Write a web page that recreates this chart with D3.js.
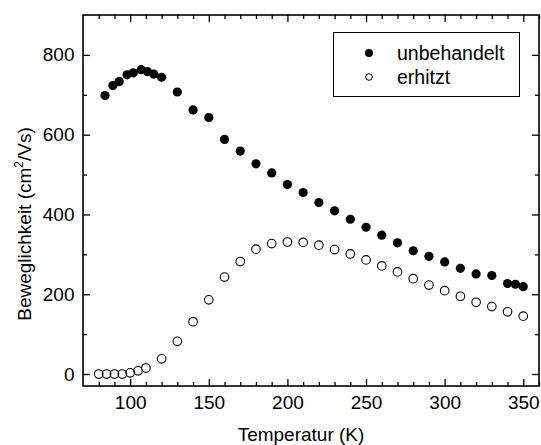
<!DOCTYPE html>
<html><head><meta charset="utf-8">
<script src="https://cdn.jsdelivr.net/npm/d3@7"></script>
<style>body{margin:0;background:#fff}svg{display:block}text{font-family:"Liberation Sans",Arial,sans-serif}</style>
</head><body>
<script>
const tempUnbehandelt = [84,89,93,98,102,107,111,115,120,130,140,150,160,170,180,190,200,210,220,230,240,250,260,270,280,290,300,310,320,330,340,345,350];
const valUnbehandelt = [698,723,733,750,755,763,758,752,744,707,662,643,588,559,527,504,475,455,430,409,388,368,348,329,309,295,281,265,251,247,227,225,219];
const tempErhitzt = [80,85,90,95,100,105,110,120,130,140,150,160,170,180,190,200,210,220,230,240,250,260,270,280,290,300,310,320,330,340,350];
const valErhitzt = [0,0,0,0,3,8,15,38,82,131,186,243,282,313,327,331,330,323,312,301,286,271,256,239,223,209,195,180,169,156,145];
const xTickLabels = [100,150,200,250,300,350];
const yTickLabels = [0,200,400,600,800];
const seriesNames = ["unbehandelt","erhitzt"];

const W=541,H=445;
const L=83,R=539,T=15,B=386;
const svg=d3.select("body").append("svg").attr("width",W).attr("height",H);
const x=d3.scaleLinear().domain([70,360]).range([L,R]);
const y=d3.scaleLinear().domain([-30,900]).range([B,T]);

const xMinor=d3.range(80,361,10).filter(v=>v%50!==0);
const yMinor=d3.range(100,900,200);

function axes(){
  const gb=svg.append("g").attr("transform",`translate(0,${B})`);
  gb.call(d3.axisBottom(x).tickValues(xTickLabels).tickSize(-7).tickPadding(9.5).tickFormat(d3.format("d")));
  gb.append("g").call(d3.axisBottom(x).tickValues(xMinor).tickSize(-4).tickFormat(""));
  const gt=svg.append("g").attr("transform",`translate(0,${T})`);
  gt.call(d3.axisTop(x).tickValues(xTickLabels).tickSize(-7).tickFormat(""));
  gt.append("g").call(d3.axisTop(x).tickValues(xMinor).tickSize(-4).tickFormat(""));
  const gl=svg.append("g").attr("transform",`translate(${L},0)`);
  gl.call(d3.axisLeft(y).tickValues(yTickLabels).tickSize(-7).tickPadding(8.5).tickFormat(d3.format("d")));
  gl.append("g").call(d3.axisLeft(y).tickValues(yMinor).tickSize(-4).tickFormat(""));
  const gr=svg.append("g").attr("transform",`translate(${R},0)`);
  gr.call(d3.axisRight(y).tickValues(yTickLabels).tickSize(-7).tickFormat(""));
  gr.append("g").call(d3.axisRight(y).tickValues(yMinor).tickSize(-4).tickFormat(""));
  svg.selectAll(".domain").remove();
  svg.selectAll(".tick line").attr("stroke","#000").attr("stroke-width",1.3);
  svg.selectAll(".tick text").attr("font-size",19).attr("fill","#000").attr("font-family","Liberation Sans, Arial, sans-serif");
  svg.append("rect").attr("x",L).attr("y",T).attr("width",R-L).attr("height",B-T)
    .attr("fill","none").attr("stroke","#000").attr("stroke-width",1.6);
}
axes();

const gd=svg.append("g");
gd.selectAll("circle.f").data(tempUnbehandelt.map((t,i)=>[t,valUnbehandelt[i]])).join("circle")
  .attr("cx",d=>x(d[0])).attr("cy",d=>y(d[1])).attr("r",4.6).attr("fill","#000");
gd.selectAll("circle.o").data(tempErhitzt.map((t,i)=>[t,valErhitzt[i]])).join("circle")
  .attr("cx",d=>x(d[0])).attr("cy",d=>y(d[1])).attr("r",4.3).attr("fill","none").attr("stroke","#000").attr("stroke-width",1.1);

svg.append("text").attr("x",301).attr("y",441).attr("text-anchor","middle").attr("font-size",19).text("Temperatur (K)");
const yt=svg.append("text").attr("transform","translate(31,224) rotate(-90)").attr("text-anchor","middle").attr("font-size",19);
yt.append("tspan").text("Beweglichkeit (cm");
yt.append("tspan").attr("font-size",12).attr("dy",-8).text("2");
yt.append("tspan").attr("dy",8).text("/Vs)");

const lg=svg.append("g");
lg.append("rect").attr("x",333.5).attr("y",32.5).attr("width",186).attr("height",64).attr("fill","#fff").attr("stroke","#000").attr("stroke-width",1);
seriesNames.forEach((n,i)=>{
  const cy=53+i*24;
  const c=lg.append("circle").attr("cx",369).attr("cy",cy).attr("r",i===0?4:3.3);
  if(i===0) c.attr("fill","#000"); else c.attr("fill","none").attr("stroke","#000").attr("stroke-width",1);
  lg.append("text").attr("x",397).attr("y",cy+6.5).attr("font-size",19.5).text(n);
});
</script>
</body></html>
